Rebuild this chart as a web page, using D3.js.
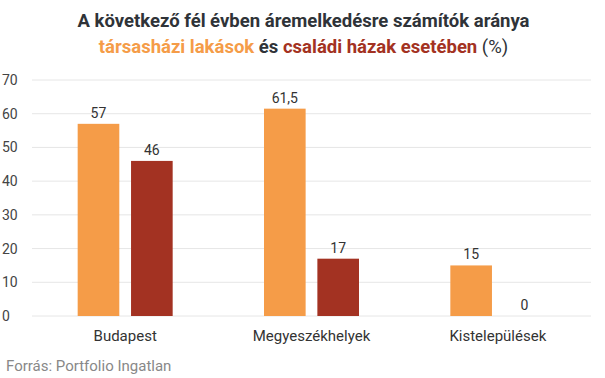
<!DOCTYPE html>
<html>
<head>
<meta charset="utf-8">
<script src="https://cdn.jsdelivr.net/npm/d3@7"></script>
<style>
  body { margin: 0; background: #fff; }
  svg { font-family: Roboto, "Noto Sans", sans-serif; }
</style>
</head>
<body>
<svg id="chart"></svg>
<script>
// data
const categories = ["Budapest", "Megyeszékhelyek", "Kistelepülések"];
const seriesNames = ["társasházi lakások", "családi házak"];
const flats = [57, 61.5, 15];
const houses = [46, 17, 0];
const yTicks = [0, 10, 20, 30, 40, 50, 60, 70];

const width = 605, height = 378;
const colors = ["#f59c48", "#a33222"];
const margin = {top: 80, right: 14, bottom: 62, left: 32};

const svg = d3.select("#chart")
    .attr("width", width)
    .attr("height", height);

const innerW = width - margin.left - margin.right;
const innerH = height - margin.top - margin.bottom;

const chart = svg.append("g")
    .attr("transform", `translate(${margin.left},${margin.top})`);

const x0 = d3.scaleBand()
    .domain(categories)
    .range([0, innerW])
    .padding(0);

const x1 = d3.scaleBand()
    .domain(seriesNames)
    .range([x0.bandwidth()/2 - 47.5, x0.bandwidth()/2 + 47.5])
    .paddingInner(0.22);

const y = d3.scaleLinear()
    .domain([0, 70])
    .range([innerH, 0]);

// grid
chart.append("g")
    .selectAll("line")
    .data(yTicks)
    .join("line")
    .attr("x1", 0)
    .attr("x2", innerW)
    .attr("y1", d => y(d))
    .attr("y2", d => y(d))
    .attr("stroke", "#e6e6e6")
    .attr("stroke-width", 1);

// y axis labels
const yaxis = d3.axisLeft(y).tickValues(yTicks).tickSize(0).tickPadding(0);
const yg = chart.append("g").call(yaxis);
yg.select(".domain").remove();
yg.selectAll("text")
    .attr("x", -margin.left + 2)
    .attr("text-anchor", "start")
    .attr("font-family", "Roboto, sans-serif")
    .attr("font-size", "14px")
    .attr("fill", "#444");

// x axis labels
const xaxis = d3.axisBottom(x0).tickSize(0).tickPadding(14);
const xg = chart.append("g")
    .attr("transform", `translate(0,${innerH})`)
    .call(xaxis);
xg.select(".domain").remove();
xg.selectAll("text")
    .attr("font-family", "Roboto, sans-serif")
    .attr("font-size", "15px")
    .attr("fill", "#333");

// bars
const rows = categories.map((c, i) => ({cat: c, vals: [flats[i], houses[i]]}));

const groups = chart.selectAll(".grp")
    .data(rows)
    .join("g")
    .attr("class", "grp")
    .attr("transform", d => `translate(${x0(d.cat)},0)`);

groups.selectAll("rect")
    .data(d => d.vals.map((v, k) => ({key: seriesNames[k], v: v, k: k})))
    .join("rect")
    .attr("x", d => x1(d.key))
    .attr("y", d => y(d.v))
    .attr("width", x1.bandwidth())
    .attr("height", d => innerH - y(d.v))
    .attr("fill", d => colors[d.k]);

groups.selectAll(".val")
    .data(d => d.vals.map((v, k) => ({key: seriesNames[k], v: v, k: k})))
    .join("text")
    .attr("class", "val")
    .attr("x", d => x1(d.key) + x1.bandwidth()/2)
    .attr("y", d => y(d.v) - 6)
    .attr("text-anchor", "middle")
    .attr("font-size", "14px")
    .attr("fill", "#333")
    .text(d => String(d.v).replace(".", ","));

// title
const title = svg.append("text")
    .attr("x", width/2)
    .attr("text-anchor", "middle")
    .attr("font-size", "18.5px")
    .attr("font-weight", "bold")
    .attr("fill", "#2f3338");
title.append("tspan").attr("x", width/2 + 1).attr("y", 27)
    .text("A következő fél évben áremelkedésre számítók aránya");
const t2 = title.append("tspan").attr("x", width/2 + 1).attr("y", 53);
t2.append("tspan").attr("fill", colors[0]).text("társasházi lakások");
t2.append("tspan").text(" és ");
t2.append("tspan").attr("fill", colors[1]).text("családi házak esetében");
t2.append("tspan").attr("font-weight", "normal").text(" (%)");

// source
svg.append("text")
    .attr("x", 6)
    .attr("y", 371)
    .attr("font-size", "15px")
    .attr("fill", "#888")
    .text("Forrás: Portfolio Ingatlan");
</script>
</body>
</html>
